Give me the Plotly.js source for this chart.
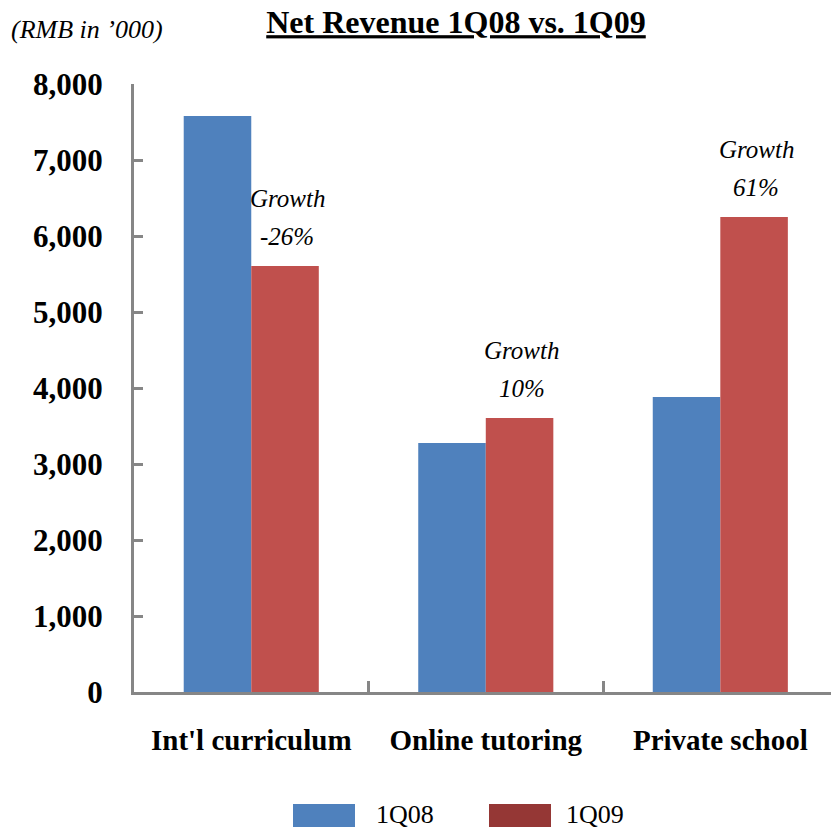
<!DOCTYPE html>
<html>
<head>
<meta charset="utf-8">
<script src="https://cdn.plot.ly/plotly-3.0.1.min.js"></script>
<style>html,body{margin:0;padding:0;background:#fff;}#chart{width:831px;height:829px;}</style>
</head>
<body>
<div id="chart"></div>
<script>
// ---- data ----
const categories = ["Int'l curriculum", "Online tutoring", "Private school"];
const seriesNames = ["1Q08", "1Q09"];
const values1Q08 = [7580, 3276, 3880];
const values1Q09 = [5605, 3605, 6250];
const growthLabels = ["-26%", "10%", "61%"];
const yTickValues = [0, 1000, 2000, 3000, 4000, 5000, 6000, 7000, 8000];

// ---- layout constants ----
const W = 831, H = 829;
const M = {l: 134, r: 0, t: 84, b: 137};
const PW = W - M.l - M.r, PH = H - M.t - M.b;
const px = x => (x - M.l) / PW;       // pixel x -> paper
const py = y => (H - M.b - y) / PH;   // pixel y -> paper
const BARGAP = 0.424;
const catPx = PW / 2.972;
const barShift = (1 - BARGAP) / 4 * catPx; // centre of 2nd bar relative to category centre

const serif = "Liberation Serif";
const blue = '#4F81BD', red = '#C0504D', redLegend = '#953735';
const axisGray = '#868686';

const traces = [
  {type: 'bar', name: seriesNames[0], x: categories, y: values1Q08,
   marker: {color: blue, line: {width: 0}}, showlegend: false, hoverinfo: 'y'},
  {type: 'bar', name: seriesNames[1], x: categories, y: values1Q09,
   marker: {color: red, line: {width: 0}}, showlegend: false, hoverinfo: 'y'}
];

const annotations = [];
categories.forEach((c, i) => {
  annotations.push({x: c, y: values1Q09[i], xref: 'x', yref: 'y', text: 'Growth',
    showarrow: false, xanchor: 'center', yanchor: 'middle', xshift: barShift + 2, yshift: 68,
    font: {family: serif, size: 25, color: '#000', style: 'italic'}});
  annotations.push({x: c, y: values1Q09[i], xref: 'x', yref: 'y', text: growthLabels[i],
    showarrow: false, xanchor: 'center', yanchor: 'middle', xshift: barShift + 2, yshift: 30,
    font: {family: serif, size: 25, color: '#000', style: 'italic'}});
});
annotations.push({x: px(9), y: py(30), xref: 'paper', yref: 'paper', text: '(RMB in ’000)',
  showarrow: false, xanchor: 'left', yanchor: 'middle', font: {family: serif, size: 26, color: '#000', style: 'italic'}});
// legend labels
annotations.push({x: px(374), y: py(814), xref: 'paper', yref: 'paper', text: seriesNames[0],
  showarrow: false, xanchor: 'left', yanchor: 'middle', font: {family: serif, size: 26, color: '#000'}});
annotations.push({x: px(564), y: py(814), xref: 'paper', yref: 'paper', text: seriesNames[1],
  showarrow: false, xanchor: 'left', yanchor: 'middle', font: {family: serif, size: 26, color: '#000'}});

const shapes = [
  {type: 'rect', xref: 'paper', yref: 'paper', x0: px(293), x1: px(355), y0: py(827), y1: py(804),
   fillcolor: blue, line: {width: 0}},
  {type: 'rect', xref: 'paper', yref: 'paper', x0: px(489), x1: px(551), y0: py(827), y1: py(804),
   fillcolor: redLegend, line: {width: 0}}
];

const layout = {
  width: W, height: H,
  margin: M,
  paper_bgcolor: '#fff', plot_bgcolor: '#fff',
  barmode: 'group', bargap: BARGAP, bargroupgap: 0,
  showlegend: false,
  title: {text: '<u>Net Revenue 1Q08 vs. 1Q09</u>', x: 456 / W, xref: 'container', xanchor: 'center',
          y: 1 - 22 / H, yref: 'container', yanchor: 'middle',
          font: {family: serif, size: 32, color: '#000', weight: 'bold'}},
  xaxis: {type: 'category', range: [-0.5, 2.472], showline: true, linecolor: axisGray, linewidth: 3,
          ticks: 'inside', tickson: 'boundaries', ticklen: 11, tickwidth: 3, tickcolor: axisGray,
          showgrid: false, zeroline: false, automargin: false, ticklabelstandoff: 20,
          tickfont: {family: serif, size: 29, color: '#000', weight: 'bold'}},
  yaxis: {range: [0, 8000], tickvals: yTickValues, tickformat: ',', showline: true, linecolor: axisGray,
          linewidth: 3, ticks: 'inside', ticklen: 9, tickwidth: 3, tickcolor: axisGray,
          showgrid: false, zeroline: false, automargin: false, ticklabelstandoff: 22,
          tickfont: {family: serif, size: 31, color: '#000', weight: 'bold'}},
  annotations: annotations,
  shapes: shapes
};

Plotly.newPlot('chart', traces, layout, {staticPlot: true, displayModeBar: false});
</script>
</body>
</html>
